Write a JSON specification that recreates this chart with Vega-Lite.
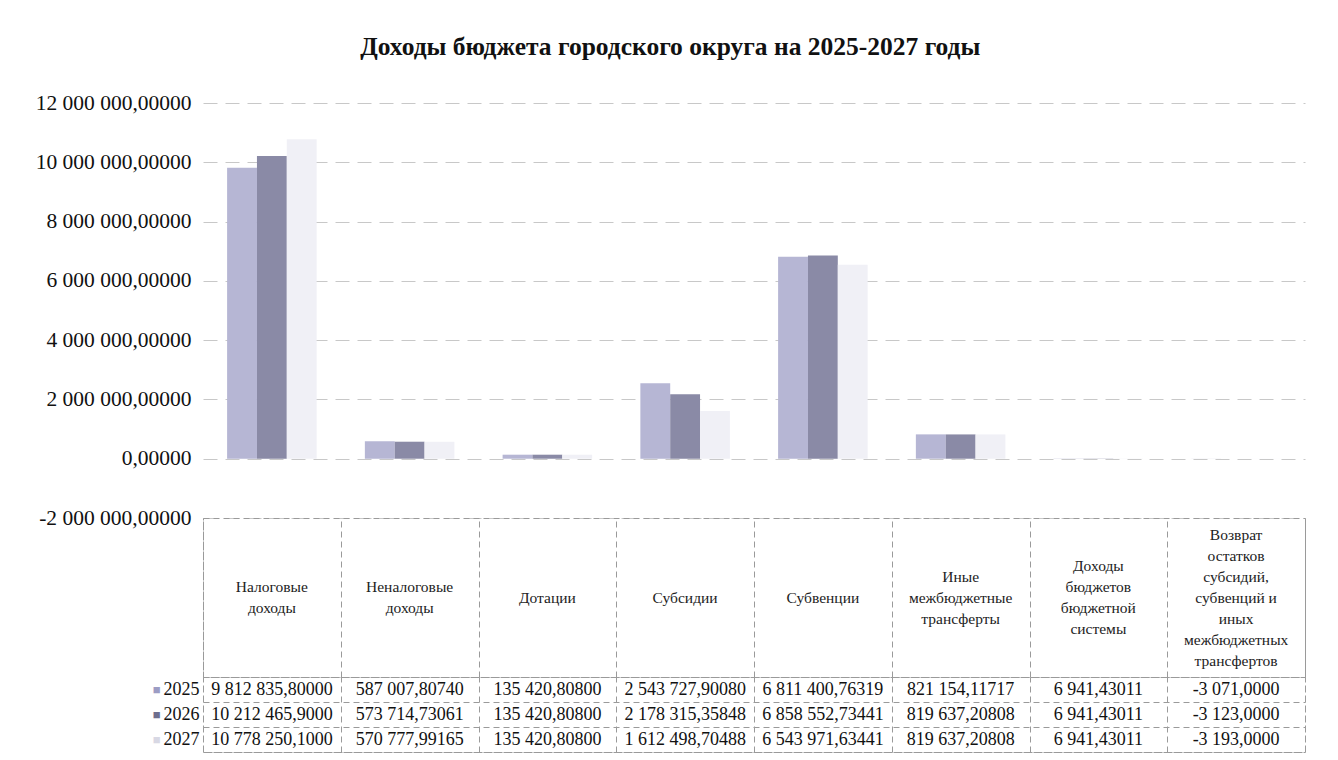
{
  "$schema": "https://vega.github.io/schema/vega-lite/v6.json",
  "background": "white",
  "padding": {"left": 35, "top": 34, "right": 20, "bottom": 0},
  "bounds": "flush",
  "config": {
    "locale": {"number": {"decimal": ",", "thousands": " ", "grouping": [3], "currency": ["", ""], "minus": "-"}},
    "font": "Liberation Serif",
    "axis": {"labelFont": "Liberation Serif"}
  },
  "title": {"text": "Доходы бюджета городского округа на 2025-2027 годы", "font": "Liberation Serif", "fontSize": 25.5, "fontWeight": "bold", "anchor": "middle", "offset": 32, "color": "#111"},
  "datasets": {
    "d": [
      {"category": "Налоговые доходы", "year": "2025", "value": 9812835.8},
      {"category": "Налоговые доходы", "year": "2026", "value": 10212465.9},
      {"category": "Налоговые доходы", "year": "2027", "value": 10778250.1},
      {"category": "Неналоговые доходы", "year": "2025", "value": 587007.8074},
      {"category": "Неналоговые доходы", "year": "2026", "value": 573714.73061},
      {"category": "Неналоговые доходы", "year": "2027", "value": 570777.99165},
      {"category": "Дотации", "year": "2025", "value": 135420.808},
      {"category": "Дотации", "year": "2026", "value": 135420.808},
      {"category": "Дотации", "year": "2027", "value": 135420.808},
      {"category": "Субсидии", "year": "2025", "value": 2543727.9008},
      {"category": "Субсидии", "year": "2026", "value": 2178315.35848},
      {"category": "Субсидии", "year": "2027", "value": 1612498.70488},
      {"category": "Субвенции", "year": "2025", "value": 6811400.76319},
      {"category": "Субвенции", "year": "2026", "value": 6858552.73441},
      {"category": "Субвенции", "year": "2027", "value": 6543971.63441},
      {"category": "Иные межбюджетные трансферты", "year": "2025", "value": 821154.11717},
      {"category": "Иные межбюджетные трансферты", "year": "2026", "value": 819637.20808},
      {"category": "Иные межбюджетные трансферты", "year": "2027", "value": 819637.20808},
      {"category": "Доходы бюджетов бюджетной системы", "year": "2025", "value": 6941.43011},
      {"category": "Доходы бюджетов бюджетной системы", "year": "2026", "value": 6941.43011},
      {"category": "Доходы бюджетов бюджетной системы", "year": "2027", "value": 6941.43011},
      {"category": "Возврат остатков субсидий, субвенций\u00a0и иных межбюджетных трансфертов", "year": "2025", "value": -3071},
      {"category": "Возврат остатков субсидий, субвенций\u00a0и иных межбюджетных трансфертов", "year": "2026", "value": -3123},
      {"category": "Возврат остатков субсидий, субвенций\u00a0и иных межбюджетных трансфертов", "year": "2027", "value": -3193}
    ]
  },
  "data": {"name": "d"},
  "spacing": 0,
  "resolve": {"scale": {"x": "independent", "y": "independent"}},
  "vconcat": [
    {
      "width": 1102,
      "height": 415,
      "view": {"stroke": null},
      "mark": {"type": "bar"},
      "encoding": {
        "x": {"field": "category", "type": "nominal", "sort": null, "scale": {"paddingInner": 0.35, "paddingOuter": 0.175}, "axis": null},
        "xOffset": {"field": "year", "type": "nominal", "scale": {"paddingInner": 0, "paddingOuter": 0}},
        "y": {"field": "value", "type": "quantitative",
          "scale": {"domain": [-2000000, 12000000], "nice": false},
          "axis": {"values": [-2000000, 0, 2000000, 4000000, 6000000, 8000000, 10000000, 12000000], "format": ",.5f", "title": null, "domain": false, "ticks": false, "labelFontSize": 21.5, "labelPadding": 12, "labelColor": "#111", "gridColor": "#c8c8c8", "gridDash": [14, 8]}},
        "color": {"field": "year", "type": "nominal", "scale": {"domain": ["2025", "2026", "2027"], "range": ["#b6b6d4", "#8a8aa6", "#f0f0f6"]}, "legend": null}
      }
    },
    {
      "width": 1102,
      "height": 159,
      "view": {"stroke": "#9a9a9a", "strokeDash": [6, 4]},
      "transform": [{"filter": "datum.year == '2025'"}],
      "mark": {"type": "text", "lineBreak": " ", "fontSize": 15.5, "lineHeight": 21, "baseline": "middle", "align": "center", "color": "#222",
        "dy": {"expr": "-(length(split(datum.category, ' ')) - 1) * 10.5"}},
      "encoding": {
        "x": {"field": "category", "type": "nominal", "sort": null, "scale": {"paddingInner": 0, "paddingOuter": 0},
          "axis": {"title": null, "labels": false, "ticks": false, "domain": false, "grid": true, "tickBand": "extent", "gridColor": "#9a9a9a", "gridDash": [6, 4]}},
        "text": {"field": "category"}
      }
    },
    {
      "width": 1102,
      "height": 75,
      "view": {"stroke": "#9a9a9a", "strokeDash": [6, 4]},
      "transform": [{"calculate": "format(datum.value, (abs(datum.value) >= 10000000 || datum.value < 0) ? ',.4f' : ',.5f')", "as": "label"}],
      "resolve": {"axis": {"y": "independent"}},
      "layer": [
        {
          "mark": {"type": "text", "fontSize": 18, "color": "#111", "baseline": "middle"},
          "encoding": {
            "x": {"field": "category", "type": "nominal", "sort": null, "scale": {"paddingInner": 0, "paddingOuter": 0},
              "axis": {"title": null, "labels": false, "ticks": false, "domain": false, "grid": true, "tickBand": "extent", "gridColor": "#9a9a9a", "gridDash": [6, 4]}},
            "y": {"field": "year", "type": "ordinal", "scale": {"domain": ["2025", "2026", "2027"], "paddingInner": 0, "paddingOuter": 0},
              "axis": {"orient": "left", "title": null, "ticks": false, "domain": false, "grid": true, "tickBand": "extent", "labelBaseline": "middle", "labelFontSize": 18, "labelPadding": 4, "labelColor": "#111", "gridColor": "#9a9a9a", "gridDash": [6, 4]}},
            "text": {"field": "label"}
          }
        },
        {
          "mark": {"type": "text", "opacity": 0},
          "encoding": {
            "x": {"field": "category", "type": "nominal", "sort": null},
            "y": {"field": "year", "type": "ordinal",
              "axis": {"orient": "left", "offset": 42, "title": null, "ticks": false, "domain": false, "grid": false, "labelBaseline": "middle", "labelExpr": "'■'", "labelFontSize": 13, "labelPadding": 1,
                "labelColor": {"condition": [{"test": "datum.value == '2025'", "value": "#9c9cc4"}, {"test": "datum.value == '2026'", "value": "#6e6e8e"}], "value": "#d8d8e4"}}},
            "text": {"field": "label"}
          }
        }
      ]
    }
  ]
}
